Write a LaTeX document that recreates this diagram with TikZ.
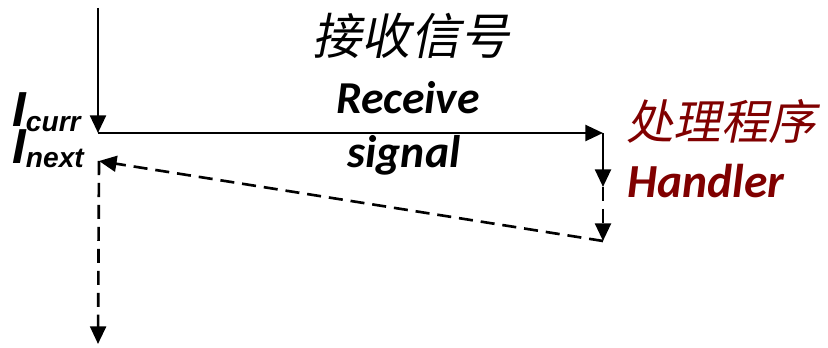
\documentclass[tikz,border=0pt]{standalone}
\usepackage{fontspec}
\setmainfont{Carlito}
\newfontfamily\labelfont{Liberation Sans}
\newfontfamily\cjkfont[FakeSlant=0.2]{Noto Sans CJK SC}
\usetikzlibrary{arrows.meta}
\definecolor{handlerred}{RGB}{128,0,0}

\begin{document}
\begin{tikzpicture}[x=0.02cm,y=-0.02cm,>={Triangle[length=10pt,width=9pt]},line width=1.5pt]
  \tikzstyle{flow}=[->]
  \tikzstyle{back}=[->, dash pattern=on 8pt off 4.5pt]
  \tikzstyle{cjk}=[inner sep=0pt, font=\cjkfont\fontsize{28}{30}\selectfont]
  \tikzstyle{eng}=[inner sep=0pt, font=\bfseries\itshape\fontsize{26}{30}\selectfont]
  \tikzstyle{instr}=[inner sep=0pt, anchor=base west, font=\labelfont\bfseries\itshape]

  \useasboundingbox (0,0) rectangle (828,348);

  \coordinate (top) at (98,8);
  \coordinate (curr) at (98,133);
  \coordinate (sig) at (603,133);
  \coordinate (run) at (603,187);
  \coordinate (ret) at (603,241);
  \coordinate (next) at (99,161);
  \coordinate (bottom) at (98,344);

  \draw[flow] (top) -- (curr);
  \draw[flow] (curr) -- (sig);
  \draw[flow] (sig) -- (run);
  \draw[back] (run) -- (ret);
  \draw[back] (ret) -- (next);
  \draw[back] (next) -- (bottom);

  \node[instr] (icurr) at (11,127) {{\fontsize{28}{30}\selectfont I}\raisebox{-2.3pt}{\fontsize{16}{18}\selectfont curr}};
  \node[instr] (inext) at (11,163) {{\fontsize{28}{30}\selectfont I}\raisebox{-2.3pt}{\fontsize{16}{18}\selectfont next}};

  \node[cjk] (recvcn) at (411,36) {接收信号};
  \node[eng, anchor=base] (recv) at (408,113) {Receive};
  \node[eng, anchor=base] (signal) at (404,167) {signal};
  \node[cjk, text=handlerred, anchor=west, font=\cjkfont\fontsize{27}{30}\selectfont] (handlercn) at (625,121) {处理程序};
  \node[eng, text=handlerred, anchor=base west, font=\bfseries\itshape\fontsize{27}{30}\selectfont] (handler) at (626,197) {Handler};
\end{tikzpicture}
\end{document}
